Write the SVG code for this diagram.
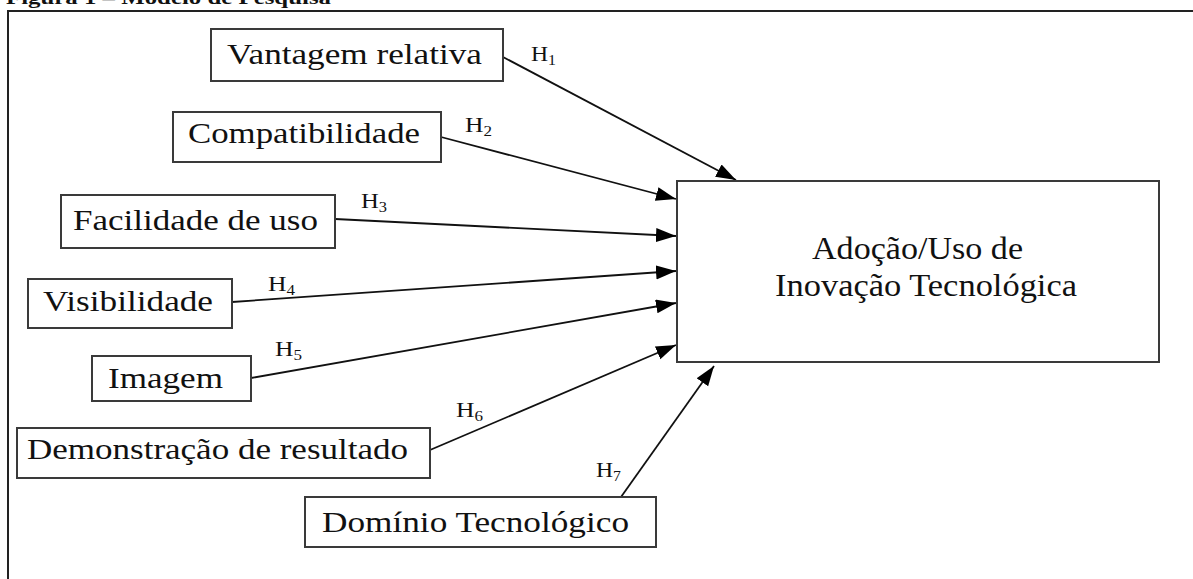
<svg xmlns="http://www.w3.org/2000/svg" width="1193" height="579" viewBox="0 0 1193 579">
<style>
.box{fill:#fff;stroke:#3a3a3a;stroke-width:2}
.lbl{font-family:"Liberation Serif","Times New Roman",serif;font-size:30px;fill:#111}
.big{font-family:"Liberation Serif","Times New Roman",serif;font-size:32px;fill:#111}
.h{font-family:"Liberation Serif","Times New Roman",serif;font-size:21px;fill:#111}
.sub{font-size:14px}
.edge{stroke:#111;stroke-width:1.8;fill:none;marker-end:url(#arr)}
</style>
<defs>
<marker id="arr" markerUnits="userSpaceOnUse" markerWidth="22" markerHeight="16" refX="20" refY="7" orient="auto">
<path d="M0,0 L20,7 L0,14 z" fill="#000"/>
</marker>
</defs>
<rect width="1193" height="579" fill="#fff"/>
<text x="6" y="4" font-family="Liberation Serif,serif" font-size="18" font-weight="bold" fill="#111" textLength="325" lengthAdjust="spacingAndGlyphs">Figura 1 – Modelo de Pesquisa</text>
<path d="M1193,11 H8 V579" fill="none" stroke="#222" stroke-width="2"/>
<g id="connectors">
<line class="edge" x1="503" y1="57" x2="736" y2="180"/>
<line class="edge" x1="441" y1="137" x2="676" y2="199"/>
<line class="edge" x1="335" y1="219" x2="676" y2="236"/>
<line class="edge" x1="232" y1="302" x2="676" y2="271"/>
<line class="edge" x1="251" y1="378" x2="676" y2="303"/>
<line class="edge" x1="430" y1="450" x2="676" y2="345"/>
<line class="edge" x1="621" y1="497" x2="714" y2="366"/>
<text class="h" x="531" y="61" textLength="25" lengthAdjust="spacingAndGlyphs">H<tspan class="sub" dy="4">1</tspan></text>
<text class="h" x="465" y="132" textLength="27" lengthAdjust="spacingAndGlyphs">H<tspan class="sub" dy="4">2</tspan></text>
<text class="h" x="361" y="208" textLength="26" lengthAdjust="spacingAndGlyphs">H<tspan class="sub" dy="4">3</tspan></text>
<text class="h" x="268" y="291" textLength="27" lengthAdjust="spacingAndGlyphs">H<tspan class="sub" dy="4">4</tspan></text>
<text class="h" x="275" y="356" textLength="27" lengthAdjust="spacingAndGlyphs">H<tspan class="sub" dy="4">5</tspan></text>
<text class="h" x="456" y="417" textLength="27" lengthAdjust="spacingAndGlyphs">H<tspan class="sub" dy="4">6</tspan></text>
<text class="h" x="596" y="477" textLength="25" lengthAdjust="spacingAndGlyphs">H<tspan class="sub" dy="4">7</tspan></text>
</g>
<g id="n-vantagem">
<rect class="box" x="211" y="29" width="292" height="52"/>
<text class="lbl" x="227" y="64" textLength="255" lengthAdjust="spacingAndGlyphs">Vantagem relativa</text>
</g>
<g id="n-compat">
<rect class="box" x="173" y="112" width="268" height="50"/>
<text class="lbl" x="188" y="143" textLength="232" lengthAdjust="spacingAndGlyphs">Compatibilidade</text>
</g>
<g id="n-facilidade">
<rect class="box" x="61" y="195" width="274" height="53"/>
<text class="lbl" x="73" y="230" textLength="245" lengthAdjust="spacingAndGlyphs">Facilidade de uso</text>
</g>
<g id="n-visibilidade">
<rect class="box" x="28" y="279" width="204" height="49"/>
<text class="lbl" x="43" y="311" textLength="170" lengthAdjust="spacingAndGlyphs">Visibilidade</text>
</g>
<g id="n-imagem">
<rect class="box" x="92" y="356" width="159" height="45"/>
<text class="lbl" x="108" y="388" textLength="115" lengthAdjust="spacingAndGlyphs">Imagem</text>
</g>
<g id="n-demonstracao">
<rect class="box" x="17" y="428" width="413" height="50"/>
<text class="lbl" x="27" y="459" textLength="381" lengthAdjust="spacingAndGlyphs">Demonstração de resultado</text>
</g>
<g id="n-dominio">
<rect class="box" x="305" y="497" width="351" height="50"/>
<text class="lbl" x="322" y="532" textLength="307" lengthAdjust="spacingAndGlyphs">Domínio Tecnológico</text>
</g>
<g id="n-adocao">
<rect class="box" x="677" y="181" width="482" height="181"/>
<text class="big" x="812" y="259" textLength="211" lengthAdjust="spacingAndGlyphs">Adoção/Uso de</text>
<text class="big" x="775" y="296" textLength="302" lengthAdjust="spacingAndGlyphs">Inovação Tecnológica</text>
</g>
</svg>
